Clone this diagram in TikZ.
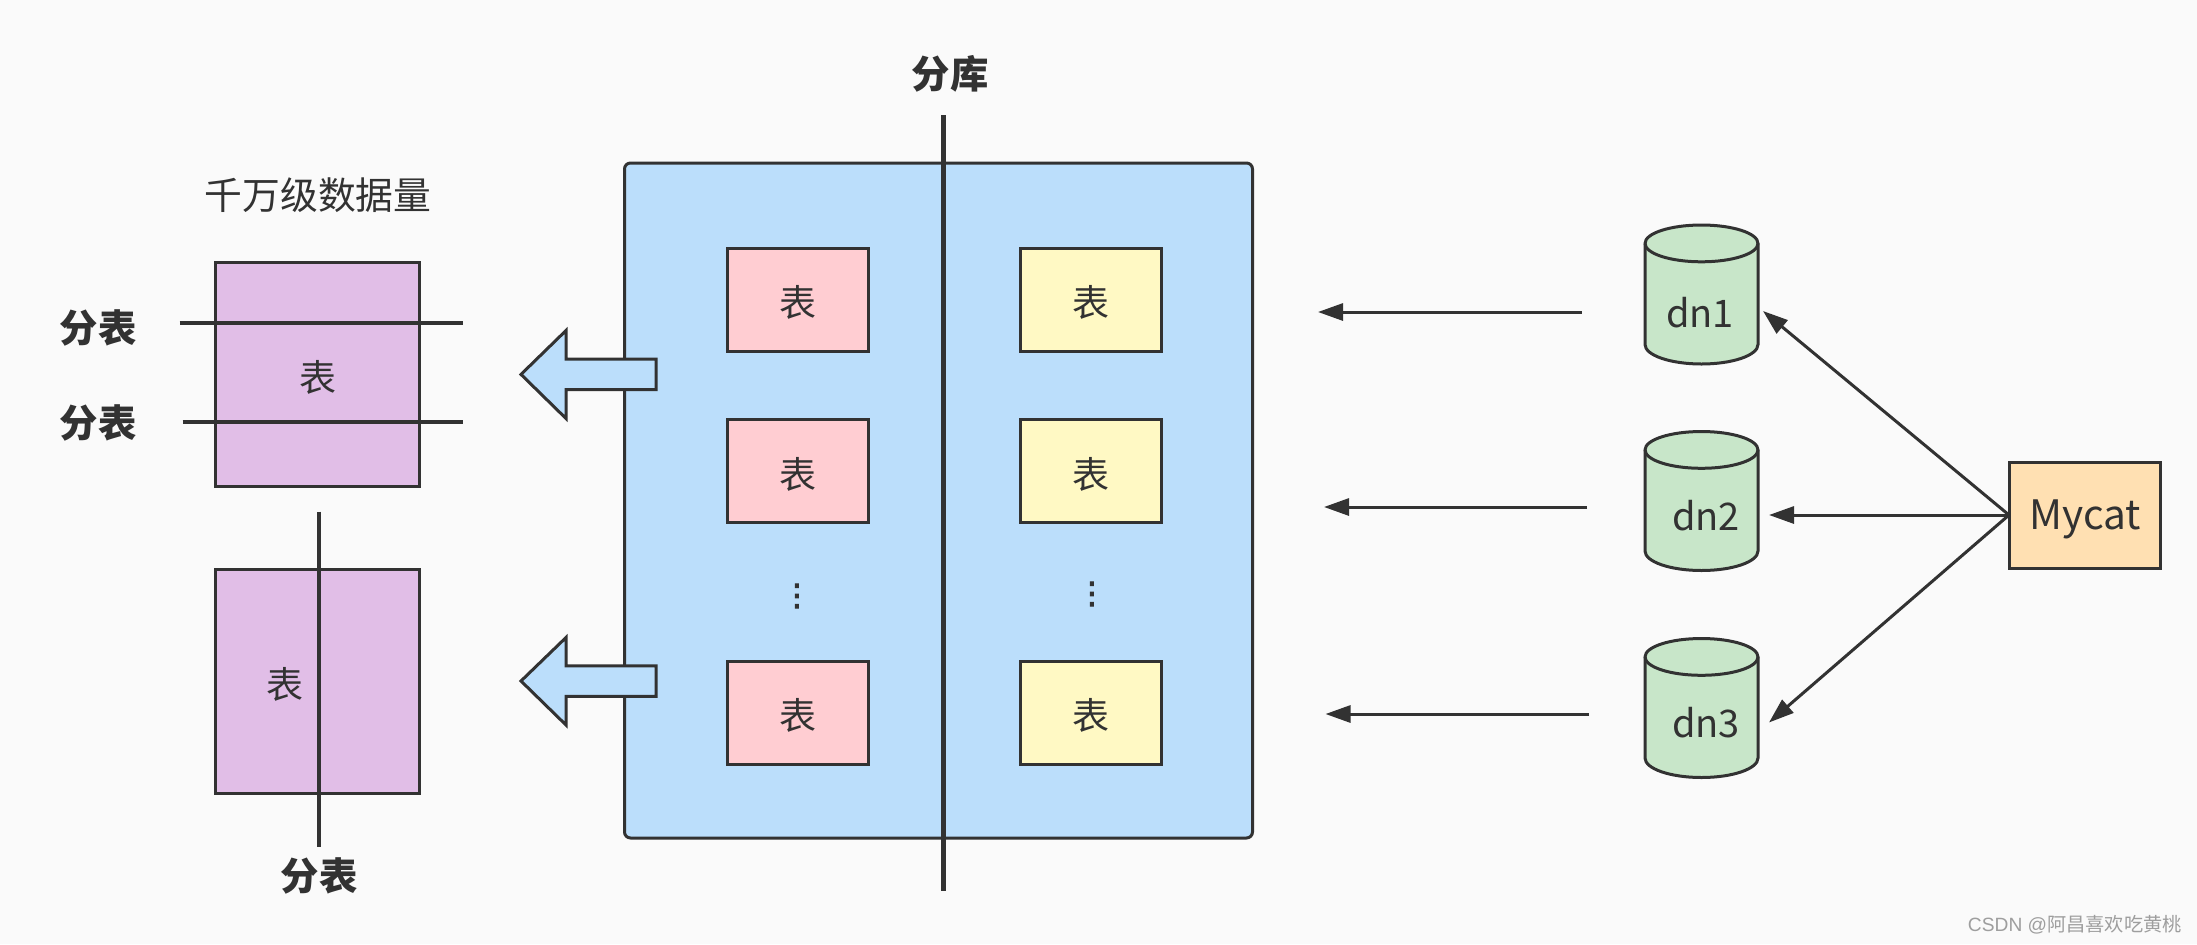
\documentclass[tikz,border=0pt]{standalone}
\usepackage{fontspec}
\setmainfont{Noto Sans CJK SC}
\newfontfamily\wmfont{Liberation Sans}
\newfontfamily\dotfont[FakeBold=3]{DejaVu Sans}
\usetikzlibrary{arrows.meta}
\definecolor{bg}{HTML}{FAFAFA}
\definecolor{ink}{HTML}{323232}
\definecolor{purplebox}{HTML}{E1BEE7}
\definecolor{bluebox}{HTML}{BBDEFB}
\definecolor{pinkbox}{HTML}{FFCDD2}
\definecolor{yellowbox}{HTML}{FFF9C4}
\definecolor{greenbox}{HTML}{C8E6C9}
\definecolor{orangebox}{HTML}{FFE0B2}
% cylinder drawn at centre x #1, top y #2 (pixels); half width 56.5.
% The picture's y axis points down, so angles run the other way round.
\newcommand{\dbcylinder}[2]{%
  \draw[dbline,fill=greenbox] (#1-56.5,#2+18.4)
    -- (#1-56.5,#2+119.5)
    arc[start angle=180,end angle=0,x radius=56.5,y radius=19.5]
    -- (#1+56.5,#2+18.4)
    arc[start angle=0,end angle=-180,x radius=56.5,y radius=18.4] -- cycle;
  \draw[dbline] (#1-56.5,#2+18.4)
    arc[start angle=180,end angle=0,x radius=56.5,y radius=18.4];
}
\tikzset{
  x=0.5pt,y=-0.5pt,
  box/.style={draw=ink,line width=1.5pt,inner sep=0pt,outer sep=0pt,text=ink,font=\fontsize{18.5}{20}\selectfont},
  tablebox/.style={box,minimum width=70.3pt,minimum height=51.7pt},
  purple/.style={box,fill=purplebox,minimum width=102pt,minimum height=112pt},
  txt/.style={inner sep=0pt,outer sep=0pt,text=ink,font=\fontsize{18.5}{20}\selectfont},
  strong/.style={txt,font=\fontsize{19.2}{20}\selectfont\bfseries},
  heavy/.style={draw=ink,line width=2.2pt},
  link/.style={draw=ink,line width=1.5pt,-{Triangle[length=12.5pt,width=8.5pt]}},
  blockarrow/.style={draw=ink,fill=bluebox,line width=1.5pt,miter limit=10},
  dbline/.style={draw=ink,line width=1.5pt},
  vdotstxt/.style={txt,font=\dotfont\fontsize{15}{16}\selectfont},
}
\begin{document}
\begin{tikzpicture}
\useasboundingbox (0,0) rectangle (2197,944);
\fill[bg] (0,0) rectangle (2197,944);

% left tables
\node[txt,font=\fontsize{18.9}{20}\selectfont] (title) at (318,195) {千万级数据量};
\node[purple] (top) at (317.5,374.75) {};
\node[txt] (topt) at (318,377) {表};
\coordinate (h1a) at (179.5,323); \coordinate (h1b) at (463,323);
\coordinate (h2a) at (182.6,421.8); \coordinate (h2b) at (462.5,421.8);
\draw[heavy] (h1a) -- (h1b);
\draw[heavy] (h2a) -- (h2b);
\node[strong] (l1) at (98,328) {分表};
\node[strong] (l2) at (98,423) {分表};
\node[purple] (bot) at (317.5,681.3) {};
\node[txt] (bott) at (285,684.5) {表};
\coordinate (v1a) at (319,511.7); \coordinate (v1b) at (319,846.7);
\draw[heavy] (v1a) -- (v1b);
\node[strong] (l3) at (319,876) {分表};

% central block
\node[box,fill=bluebox,rounded corners=3pt,minimum width=314pt,minimum height=337.5pt] (db) at (938.5,500.5) {};
\coordinate (va) at (943.6,115); \coordinate (vb) at (943.6,891);
\draw[heavy] (va) -- (vb);
\node[strong] (ku) at (950,74) {分库};

\foreach \n/\y in {1/299.7,2/471.1,3/712.8}{
  \node[tablebox,fill=pinkbox] (p\n) at (798,\y) {};
  \node[tablebox,fill=yellowbox] (y\n) at (1090.8,\y) {};
  \node[txt] (pt\n) at (798,\y+3) {表};
  \node[txt] (yt\n) at (1091,\y+3) {表};
}
\node[vdotstxt] (d1) at (797,596) {⋮};
\node[vdotstxt] (d2) at (1092,594) {⋮};

% block arrows
\draw[blockarrow] (521,374.4) -- (566,330.5) -- (566,359) -- (656,359) -- (656,389.7) -- (566,389.7) -- (566,418.5) -- cycle;
\draw[blockarrow] (521,681) -- (566,637.5) -- (566,665.8) -- (656,665.8) -- (656,696.4) -- (566,696.4) -- (566,725) -- cycle;

% cylinders
\dbcylinder{1701.5}{225}
\dbcylinder{1701.5}{431.5}
\dbcylinder{1701.5}{638.5}
\node[txt,font=\fontsize{19}{20}\selectfont] (t1) at (1700,313) {dn1};
\node[txt,font=\fontsize{19}{20}\selectfont] (t2) at (1706,516) {dn2};
\node[txt,font=\fontsize{19}{20}\selectfont] (t3) at (1706,723) {dn3};

% Mycat
\node[box,fill=orangebox,minimum width=75.5pt,minimum height=53pt] (my) at (2084.5,515) {};
\node[txt,font=\fontsize{20.3}{22}\selectfont] (myt) at (2085,519.5) {Mycat};
\coordinate (m1) at (1763,311);
\coordinate (m2) at (1769,515);
\coordinate (m3) at (1769,722.5);
\draw[link] (my.west) -- (m1);
\draw[link] (my.west) -- (m2);
\draw[link] (my.west) -- (m3);

% free arrows
\coordinate (a1s) at (1581.5,312); \coordinate (a1e) at (1318,312);
\coordinate (a2s) at (1587,507);   \coordinate (a2e) at (1324,507);
\coordinate (a3s) at (1589,714);   \coordinate (a3e) at (1325.5,714);
\draw[link] (a1s) -- (a1e);
\draw[link] (a2s) -- (a2e);
\draw[link] (a3s) -- (a3e);

% watermark
\node[inner sep=0pt,anchor=east,text=black!38,font=\fontsize{9.6}{10}\selectfont] (wm) at (2182,925) {{\wmfont CSDN @}阿昌喜欢吃黄桃};
\end{tikzpicture}
\end{document}
